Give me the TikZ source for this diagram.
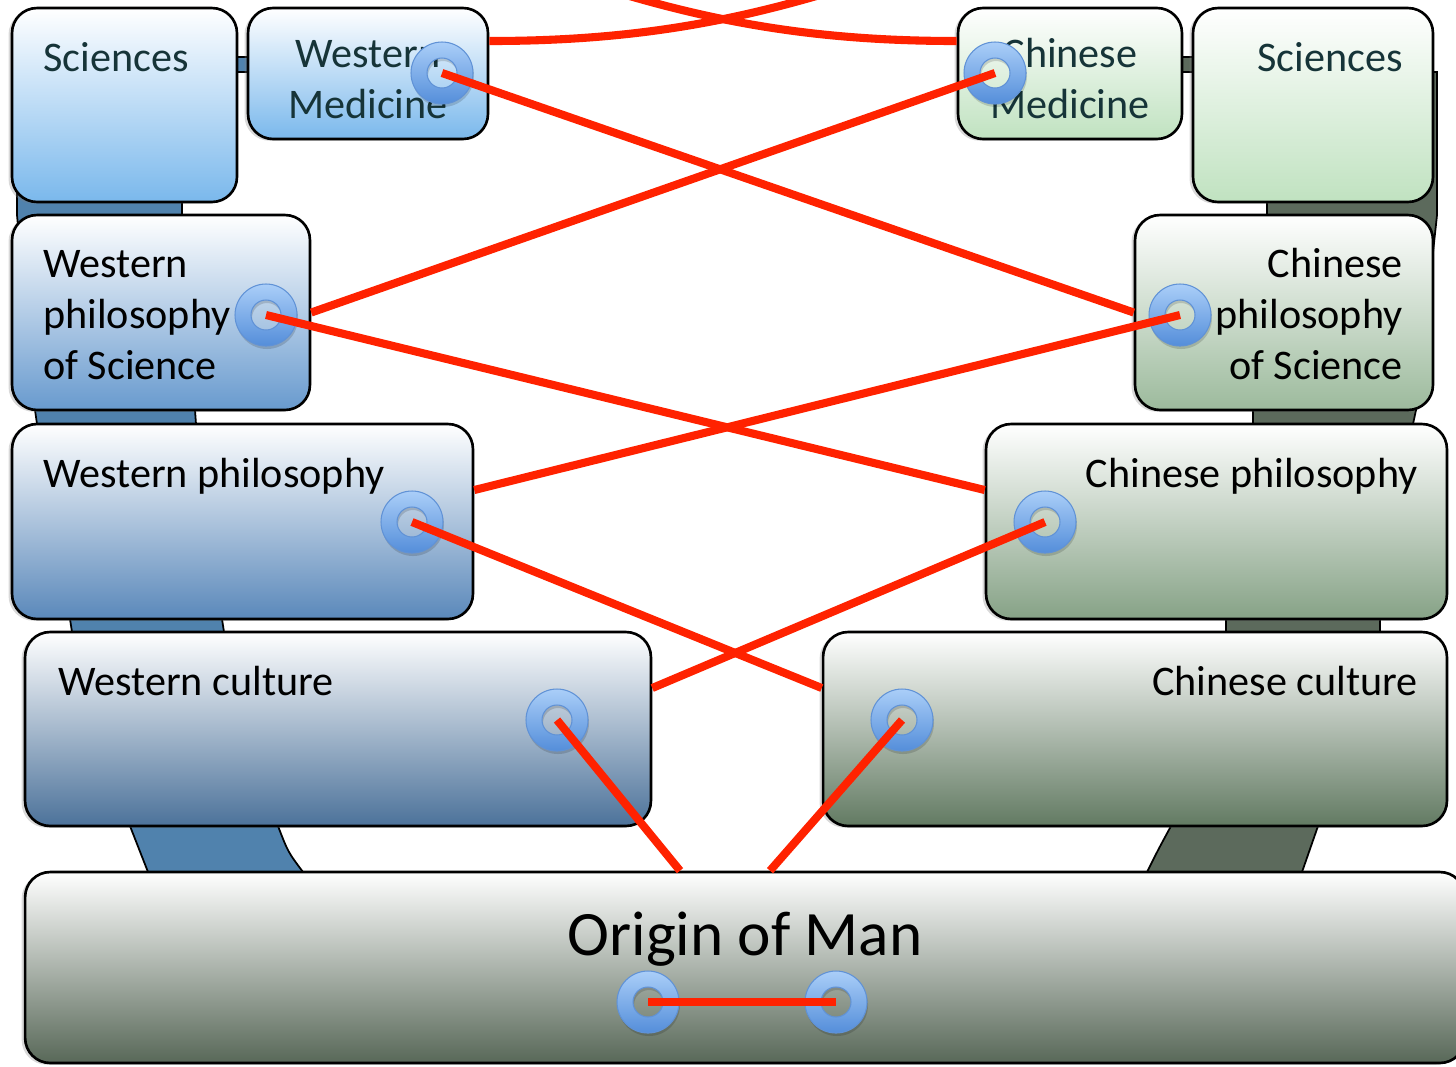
\documentclass[tikz,border=0pt]{standalone}
\usepackage{fontspec}
\setmainfont{Carlito}
\usepackage{tikz}
\usetikzlibrary{shadows}
\definecolor{linkred}{RGB}{255,34,0}
\definecolor{sciink}{RGB}{22,52,56}
\definecolor{wtrunkc}{RGB}{80,130,173}
\definecolor{ctrunkc}{RGB}{92,106,92}
\definecolor{ringtop}{RGB}{170,206,248}
\definecolor{ringbot}{RGB}{84,142,218}
\definecolor{ringedge}{RGB}{96,146,214}
\definecolor{wsciblue}{RGB}{122,184,236}
\definecolor{wposblue}{RGB}{104,154,206}
\definecolor{wphblue}{RGB}{90,136,186}
\definecolor{wculblue}{RGB}{76,114,154}
\definecolor{cscigreen}{RGB}{192,226,192}
\definecolor{cposgreen}{RGB}{156,186,156}
\definecolor{cphgreen}{RGB}{134,162,134}
\definecolor{cculgreen}{RGB}{98,122,98}
\definecolor{origingrey}{RGB}{88,104,88}

\begin{document}
\begin{tikzpicture}[x=0.02cm, y=-0.02cm,
        box/.style={draw=black, line width=1.5pt, rounded corners=0.5cm, inner sep=0pt,
            top color=white, bottom color=#1,
            drop shadow={shadow xshift=-2pt, shadow yshift=-1pt, opacity=.3}},
        lab/.style={inner sep=0pt, font=\fontsize{24}{29}\selectfont},
        scilab/.style={lab, text=sciink},
        link/.style={draw=linkred, line width=4.6pt},
        wtrunk/.style={fill=wtrunkc, draw=black, line width=1pt},
        ctrunk/.style={fill=ctrunkc, draw=black, line width=1pt},
        ringpic/.pic={
            \fill[black, opacity=.15, even odd rule] (1,3) circle (31) (1,3) circle (15);
            \shade[top color=ringtop, bottom color=ringbot, even odd rule] (0,0) circle (31) (0,0) circle (15);
            \draw[ringedge, line width=.6pt] (0,0) circle (31) (0,0) circle (15);
        }]
        \path[use as bounding box] (0,0) rectangle (1456,1066);
        \clip (0,0) rectangle (1456,1066);

        % trunks behind the boxes
        \filldraw[wtrunk] (17,100) -- (17,215) -- (35,410) -- (37,424) -- (70,619) -- (72,632)
            -- (130,826) -- (148,872) -- (150,900) -- (305,900) -- (303,872)
            .. controls (288,852) .. (278,826) -- (224,632) -- (222,619) -- (196,424)
            -- (195,410) -- (182,215) -- (182,100) -- cycle;
        \filldraw[wtrunk] (237,57) rectangle (248,72);
        \filldraw[ctrunk] (1267,100) -- (1267,215) -- (1253,410) -- (1253,424) -- (1226,619)
            -- (1226,632) -- (1171,826) .. controls (1158,850) .. (1147,872) -- (1145,900)
            -- (1302,900) -- (1302,872) -- (1318,826) -- (1380,632) -- (1380,619)
            -- (1413,424) -- (1416,410) -- (1437,215) -- (1437,72) -- (1300,72) -- cycle;
        \filldraw[ctrunk] (1182,57) rectangle (1193,72);

        % boxes
        \node[box=wsciblue, minimum width=4.5cm, minimum height=3.88cm] (wsci) at (124.5,105) {};
        \node[box=wsciblue, minimum width=4.8cm, minimum height=2.62cm] (wmed) at (368,73.5) {};
        \node[box=cscigreen, minimum width=4.48cm, minimum height=2.62cm] (cmed) at (1070,73.5) {};
        \node[box=cscigreen, minimum width=4.8cm, minimum height=3.88cm] (csci) at (1313,105) {};
        \node[box=wposblue, minimum width=5.96cm, minimum height=3.9cm] (wpos) at (161,312.5) {};
        \node[box=cposgreen, minimum width=5.96cm, minimum height=3.9cm] (cpos) at (1284,312.5) {};
        \node[box=wphblue, minimum width=9.22cm, minimum height=3.9cm] (wph) at (242.5,521.5) {};
        \node[box=cphgreen, minimum width=9.22cm, minimum height=3.9cm] (cph) at (1216.5,521.5) {};
        \node[box=wculblue, minimum width=12.52cm, minimum height=3.88cm] (wcul) at (338,729) {};
        \node[box=cculgreen, minimum width=12.48cm, minimum height=3.88cm] (ccul) at (1135,729) {};
        \node[box=origingrey, minimum width=28.8cm, minimum height=3.82cm] (origin) at (745,967.5) {};

        % texts (base of a multi-line node is its last line)
        \node[scilab, anchor=base west] (wsci-t) at (43,71) {Sciences};
        \node[scilab, anchor=base east] (csci-t) at (1403,71) {Sciences};
        \node[scilab, align=center, anchor=base] (wmed-t) at (368,118) {Western\\Medicine};
        \node[scilab, align=center, anchor=base] (cmed-t) at (1070,118) {Chinese\\Medicine};
        \node[lab, align=left, anchor=base west] (wpos-t) at (43,379) {Western\\philosophy\\of Science};
        \node[lab, align=right, anchor=base east] (cpos-t) at (1403,379) {Chinese\\philosophy\\of Science};
        \node[lab, anchor=base west] (wph-t) at (43,487) {Western philosophy};
        \node[lab, anchor=base east] (cph-t) at (1418,487) {Chinese philosophy};
        \node[lab, anchor=base west] (wcul-t) at (58,695) {Western culture};
        \node[lab, anchor=base east] (ccul-t) at (1418,695) {Chinese culture};
        \node[inner sep=0pt, font=\fontsize{36}{43}\selectfont, anchor=base] (origin-t) at (745,955) {Origin of Man};

        % rings
        \coordinate (wmedr) at (442,73);
        \coordinate (cmedr) at (995,73);
        \coordinate (wposr) at (266,315);
        \coordinate (cposr) at (1180,315);
        \coordinate (wphr) at (412,522);
        \coordinate (cphr) at (1045,522);
        \coordinate (wculr) at (557,720);
        \coordinate (cculr) at (902,720);
        \coordinate (origl) at (648,1002);
        \coordinate (origr) at (836,1002);
        \foreach \r in {wmedr,cmedr,wposr,cposr,wphr,cphr,wculr,cculr,origl,origr}
            \pic at (\r) {ringpic};

        % links
        \coordinate (topa) at (830,-8);
        \coordinate (topb) at (616,-8);
        \draw[link] ([yshift=0.65cm]wmed.east) .. controls (620,41) and (720,25) .. (topa);
        \draw[link] ([yshift=0.65cm]cmed.west) .. controls (826,41) and (726,25) .. (topb);
        \draw[link] (wmedr) -- (cpos.west);
        \draw[link] (wpos.east) -- (cmedr);
        \draw[link] (wposr) -- ([yshift=0.63cm]cph.west);
        \draw[link] (cposr) -- ([yshift=0.63cm]wph.east);
        \draw[link] (wphr) -- ([yshift=0.82cm]ccul.west);
        \draw[link] (cphr) -- ([yshift=0.82cm]wcul.east);
        \draw[link] (wculr) -- ([xshift=-1.3cm]origin.north);
        \draw[link] (cculr) -- ([xshift=0.5cm]origin.north);
        \draw[link] (origl) -- (origr);
\end{tikzpicture}
\end{document}
